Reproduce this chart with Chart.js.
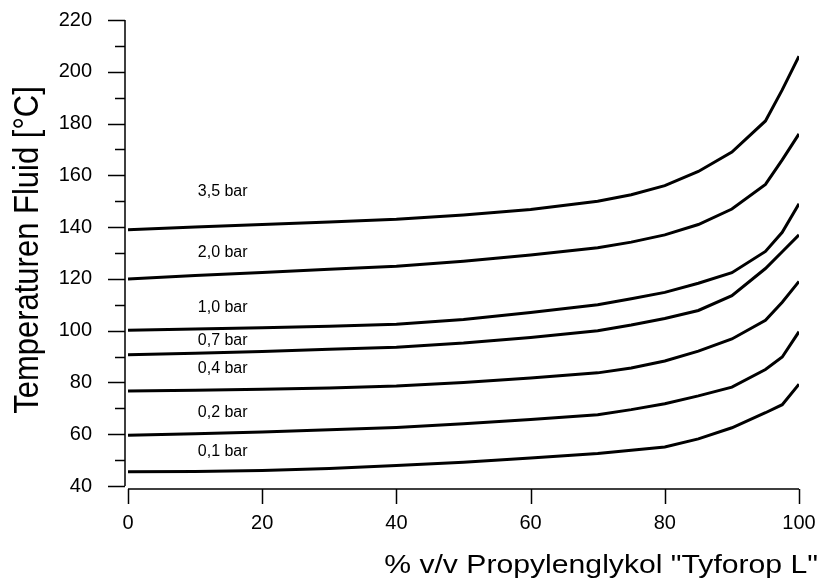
<!DOCTYPE html>
<html>
<head>
<meta charset="utf-8">
<script src="https://cdn.jsdelivr.net/npm/chart.js@4/dist/chart.umd.min.js"></script>
<style>
html,body{margin:0;padding:0;background:#fff;}
canvas{display:block;}
</style>
</head>
<body>
<canvas id="c" width="819" height="583"></canvas>
<script>
// ---- data ----
const xPercent = [0, 10, 20, 30, 40, 50, 60, 70, 75, 80, 85, 90, 95, 97.5, 100];
const bar35 = [139, 140, 141, 142, 143, 144.7, 146.8, 150, 152.5, 156, 161.5, 169, 181, 193, 206];
const bar20 = [120, 121.3, 122.5, 123.7, 124.9, 126.8, 129.2, 132, 134.2, 137, 141, 147, 156.5, 166, 176];
const bar10 = [100.2, 100.6, 101.1, 101.7, 102.5, 104.3, 107, 110, 112.3, 114.8, 118.3, 122.4, 130.6, 138, 149];
const bar07 = [90.7, 91.3, 92, 92.8, 93.6, 95.2, 97.4, 100, 102.2, 104.7, 107.8, 113.5, 124, 130.5, 137];
const bar04 = [76.7, 77, 77.4, 77.9, 78.6, 80, 81.7, 83.7, 85.6, 88.3, 92.1, 96.8, 104, 111, 119];
const bar02 = [59.6, 60.2, 60.9, 61.7, 62.6, 64, 65.7, 67.5, 69.5, 71.8, 74.8, 78.2, 85, 89.8, 99.6];
const bar01 = [45.5, 45.6, 46, 46.8, 47.9, 49.2, 50.8, 52.6, 53.8, 55.1, 58.2, 62.5, 68.3, 71.4, 79.3];
const seriesNames = ['3,5 bar', '2,0 bar', '1,0 bar', '0,7 bar', '0,4 bar', '0,2 bar', '0,1 bar'];
const seriesValues = [bar35, bar20, bar10, bar07, bar04, bar02, bar01];
// label anchors in data units (x %, y °C)
const labelX = [10.4, 10.4, 10.4, 10.4, 10.4, 10.4, 10.4];
const labelY = [153.7, 130.1, 109.1, 96.1, 85.2, 68.3, 53.3];
const xTitle = '% v/v Propylenglykol "Tyforop L"';
const yTitle = 'Temperaturen Fluid [°C]';

const FONT = '"Liberation Sans", Arial, Helvetica, sans-serif';

const datasets = seriesValues.map((vals, i) => ({
  label: seriesNames[i],
  data: xPercent.map((x, j) => ({x: x, y: vals[j]})),
  borderColor: '#000',
  borderWidth: 3,
  pointRadius: 0,
  tension: 0,
  fill: false
}));

const decor = {
  id: 'decor',
  afterDraw(chart) {
    const ctx = chart.ctx;
    const xs = chart.scales.x, ys = chart.scales.y;
    const ca = chart.chartArea;
    ctx.save();
    ctx.strokeStyle = '#000';
    ctx.lineWidth = 1.5;
    // y axis
    const ax = ca.left - 3;
    ctx.beginPath();
    ctx.moveTo(ax, ys.getPixelForValue(220));
    ctx.lineTo(ax, ys.getPixelForValue(40));
    for (let v = 40; v <= 220; v += 10) {
      const py = Math.round(ys.getPixelForValue(v)) + 0.5;
      const len = (v % 20 === 0) ? 17 : 10;
      ctx.moveTo(ax, py);
      ctx.lineTo(ax - len, py);
    }
    ctx.stroke();
    // x axis
    const ay = ca.bottom + 3;
    ctx.beginPath();
    ctx.moveTo(xs.getPixelForValue(0), ay);
    ctx.lineTo(xs.getPixelForValue(100), ay);
    for (let v = 0; v <= 100; v += 20) {
      const px = Math.round(xs.getPixelForValue(v)) + 0.5;
      ctx.moveTo(px, ay);
      ctx.lineTo(px, ay + 15);
    }
    ctx.stroke();
    // curve labels
    ctx.fillStyle = '#000';
    ctx.font = '16px ' + FONT;
    ctx.textAlign = 'left';
    ctx.textBaseline = 'middle';
    seriesNames.forEach((n, i) => {
      ctx.fillText(n, xs.getPixelForValue(labelX[i]), ys.getPixelForValue(labelY[i]));
    });
    // x title
    ctx.save();
    ctx.font = '26px ' + FONT;
    ctx.textAlign = 'right';
    ctx.textBaseline = 'alphabetic';
    ctx.translate(818, 573);
    ctx.scale(1.16, 1);
    ctx.fillText(xTitle, 0, 0);
    ctx.restore();
    // y title
    ctx.save();
    ctx.font = '31px ' + FONT;
    ctx.textAlign = 'center';
    ctx.textBaseline = 'middle';
    ctx.translate(28, 250);
    ctx.rotate(-Math.PI / 2);
    ctx.scale(1, 1.12);
    ctx.fillText(yTitle, 0, 0);
    ctx.restore();
    ctx.restore();
  }
};

function zeroPad(s) { s.paddingTop = 0; s.paddingBottom = 0; s.paddingLeft = 0; s.paddingRight = 0; }

new Chart(document.getElementById('c'), {
  type: 'line',
  data: { datasets: datasets },
  options: {
    responsive: false,
    animation: false,
    devicePixelRatio: 1,
    layout: { padding: { top: 20, right: 20, left: 0, bottom: 0 } },
    plugins: { legend: { display: false }, tooltip: { enabled: false } },
    scales: {
      x: {
        type: 'linear', min: 0, max: 100,
        grid: { display: false, drawTicks: false }, border: { display: false },
        ticks: { stepSize: 20, color: '#000', font: { family: FONT, size: 20 }, padding: 25, maxRotation: 0 },
        afterFit(s) { s.height = 97; zeroPad(s); }
      },
      y: {
        type: 'linear', min: 40, max: 220,
        grid: { display: false, drawTicks: false }, border: { display: false },
        ticks: { stepSize: 10, color: '#000', font: { family: FONT, size: 20 }, padding: 36,
          callback: v => (v % 20 === 0 ? String(v) : '') },
        afterFit(s) { s.width = 128; zeroPad(s); }
      }
    }
  },
  plugins: [decor]
});
</script>
</body>
</html>
